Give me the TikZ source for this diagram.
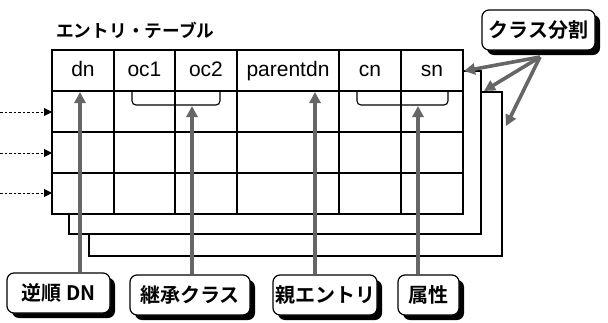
\documentclass[tikz,border=0pt]{standalone}
\usepackage{fontspec}
\setmainfont{Liberation Sans}
\newfontfamily\jpb{Noto Sans CJK JP Bold}
\usetikzlibrary{arrows.meta,shadows}
\begin{document}
\begin{tikzpicture}[x=1pt,y=-1pt,
  tbl/.style={draw=black,line width=1.3pt,fill=white},
  grid/.style={draw=black,line width=1.1pt},
  hdr/.style={font=\fontsize{21}{21}\selectfont,inner sep=0pt,anchor=base},
  lbl/.style={draw=black,line width=1.2pt,rounded corners=7pt,fill=white,
    font=\jpb\fontsize{20}{20}\selectfont,minimum height=40pt,inner sep=0pt,
    general shadow={fill=black,shadow xshift=5pt,shadow yshift=-5pt}},
  garrow/.style={draw=black!60,line width=3.6pt,
    -{Triangle[width=11pt,length=11pt]}},
  darrow/.style={draw=black,line width=1pt,dash pattern=on 2.5pt off 2pt,
    -{Triangle[width=8pt,length=8pt]}},
  brk/.style={draw=black,line width=1.1pt,rounded corners=4pt}]
\useasboundingbox (0,0) rectangle (608,322);
% back tables
\draw[tbl] (89,92) rectangle (502,256);
\draw[tbl] (69,71) rectangle (481,234);
% main table
\draw[tbl] (52,50) rectangle (463,214);
\foreach \x in {114,175,237,339,401} \draw[grid] (\x,50) -- (\x,214);
\foreach \y in {91,132,173} \draw[grid] (52,\y) -- (463,\y);
% headers
\node[hdr] (hdn) at (83,76) {dn};
\node[hdr] (hoc1) at (144.5,76) {oc1};
\node[hdr] (hoc2) at (206,76) {oc2};
\node[hdr] (hpar) at (288,76) {parentdn};
\node[hdr] (hcn) at (370,76) {cn};
\node[hdr] (hsn) at (432,76) {sn};
% title
\node[font=\jpb\fontsize{17.7}{17.7}\selectfont,anchor=west,inner sep=0pt] (title) at (56,30) {エントリ・テーブル};
% brackets
\draw[brk] (132,91) -- (132,105) -- (220,105) -- (220,91);
\draw[brk] (357,91) -- (357,105) -- (448,105) -- (448,91);
% labels
\node[lbl,minimum width=103pt] (l1) at (58.5,293) {逆順 DN};
\node[lbl,minimum width=120pt] (l2) at (190,295) {継承クラス};
\node[lbl,minimum width=104pt] (l3) at (325,295) {親エントリ};
\node[lbl,minimum width=61pt] (l4) at (428.5,295) {属性};
\node[lbl,minimum width=113pt] (l5) at (538.5,30) {クラス分割};
% arrow tips
\coordinate (t1) at (80,92);
\coordinate (t2) at (192,106);
\coordinate (t3) at (315,92);
\coordinate (t4) at (418,106);
\draw[garrow] (t1 |- l1.north) -- (t1);
\draw[garrow] (t2 |- l2.north) -- (t2);
\draw[garrow] (t3 |- l3.north) -- (t3);
\draw[garrow] (t4 |- l4.north) -- (t4);
% class split arrows
\coordinate (k) at (540,57);
\coordinate (k1) at (464,71);
\coordinate (k2) at (484,91);
\coordinate (k3) at (506,126);
\draw[garrow] (k) -- (k1);
\draw[garrow] (k) -- (k2);
\draw[garrow] (k) -- (k3);
% dashed input arrows
\coordinate (d1s) at (0,112); \coordinate (d1e) at (52,112);
\coordinate (d2s) at (0,153); \coordinate (d2e) at (52,153);
\coordinate (d3s) at (0,193); \coordinate (d3e) at (52,193);
\draw[darrow] (d1s) -- (d1e);
\draw[darrow] (d2s) -- (d2e);
\draw[darrow] (d3s) -- (d3e);
\end{tikzpicture}
\end{document}
